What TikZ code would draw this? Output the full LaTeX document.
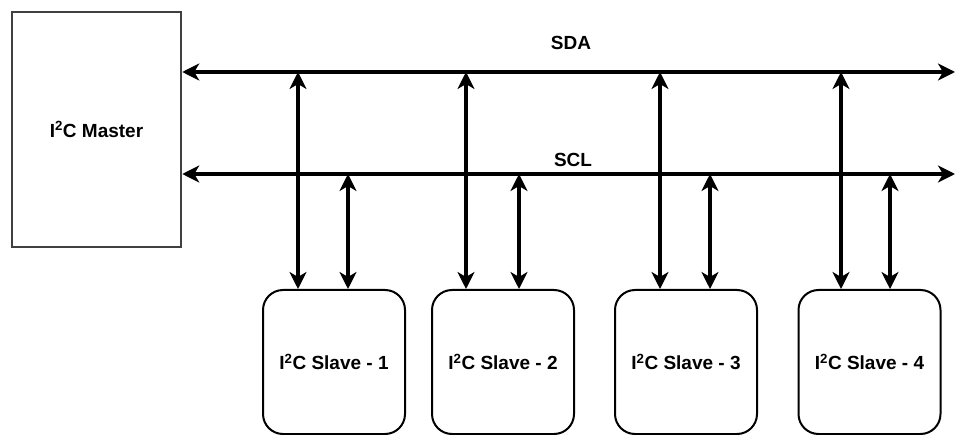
\documentclass[tikz,border=0pt]{standalone}
\usepackage{fontspec}
\setmainfont{Liberation Sans}
\usetikzlibrary{arrows.meta}
\begin{document}
\begin{tikzpicture}[x=1pt,y=-1pt,
  tip/.style={Stealth[length=17pt,width=17pt,inset=5pt]},
  bus/.style={line width=3.3pt,{Stealth[length=17pt,width=17pt,inset=5pt]}-{Stealth[length=17pt,width=17pt,inset=5pt]}},
  master/.style={draw=black!75,line width=2.5pt,minimum width=169pt,minimum height=235pt,inner sep=0pt},
  slave/.style={draw=black,line width=2pt,rounded corners=20pt,minimum width=142pt,minimum height=144pt,inner sep=0pt},
  lbl/.style={font=\bfseries\fontsize{19}{22}\selectfont}]
\useasboundingbox (0,0) rectangle (955,435);
% master and slaves
\node[master,lbl] (m) at (96.5,129.5) {I\textsuperscript{2}C Master};
\node[slave,lbl] (s1) at (334,362) {I\textsuperscript{2}C Slave - 1};
\node[slave,lbl] (s2) at (503,362) {I\textsuperscript{2}C Slave - 2};
\node[slave,lbl] (s3) at (686,362) {I\textsuperscript{2}C Slave - 3};
\node[slave,lbl] (s4) at (869.5,362) {I\textsuperscript{2}C Slave - 4};
% bus ends
\coordinate (sdaE) at (955,72);
\coordinate (sclE) at (955,174);
\draw[bus] (m.east |- sdaE) -- (sdaE);
\draw[bus] (m.east |- sclE) -- (sclE);
\node[lbl] (sda) at (571,43) {SDA};
\node[lbl] (scl) at (573,160) {SCL};
% taps from each slave
\foreach \s/\a/\b in {s1/298/348, s2/466/519, s3/660/710, s4/841/890}{
  \draw[bus] (\s.north -| \a,0) -- (\a,72);
  \draw[bus] (\s.north -| \b,0) -- (\b,174);
}
\end{tikzpicture}
\end{document}
